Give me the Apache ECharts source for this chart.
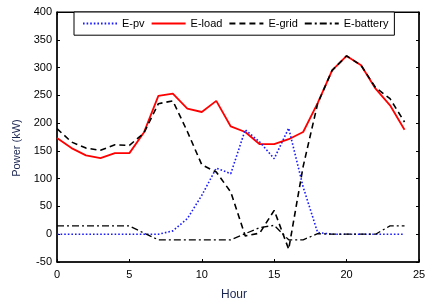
<!DOCTYPE html>
<html>
<head>
<meta charset="utf-8">
<script src="https://cdn.jsdelivr.net/npm/echarts@6/dist/echarts.min.js"></script>
<style>html,body{margin:0;padding:0;background:#fff;}#c{width:432px;height:308px;}</style>
</head>
<body>
<div id="c"></div>
<script>
const hours = [0,1,2,3,4,5,6,7,8,9,10,11,12,13,14,15,16,17,18,19,20,21,22,23,24];
const ePv      = [0,0,0,0,0,0,0,0,6,28,70,119,109,188,166,136,191,85,3,0,0,0,0,0,0];
const eLoad    = [173,155,142,137,146,146,183,249,253,226,220,240,194,184,162,162,171,184,236,295,321,304,262,232,188];
const eGrid    = [190,166,155,151,161,160,182,235,240,185,125,112,76,-3,2,43,-27,122,235,295,321,304,264,244,202];
const eBattery = [15,15,15,15,15,15,2,-10,-10,-10,-10,-10,-10,1,12,16,-10,-10,1,0,0,0,0,15,15];
const seriesNames = ['E-pv','E-load','E-grid','E-battery'];
const xTicks = {min:0, max:25, interval:5};
const yTicks = {min:-50, max:400, interval:50};

const pair = arr => hours.map((h,i)=>[h,arr[i]]);
const font = 'Liberation Sans, Arial, sans-serif';
const chart = echarts.init(document.getElementById('c'), null, {renderer:'canvas'});
const axisCommon = {
  axisLine:{show:true, onZero:false, lineStyle:{color:'#000', width:1.5}},
  axisTick:{show:true, inside:true, length:3, lineStyle:{color:'#000'}},
  splitLine:{show:false}
};
chart.setOption({
  animation:false,
  backgroundColor:'#fff',
  grid:{left:57, right:13, top:12, bottom:46, show:true, borderColor:'#000', borderWidth:1},
  legend:{
    data:seriesNames, left:74, top:12, orient:'horizontal',
    itemWidth:34, itemHeight:14, itemGap:6, padding:[6,6,6,8],
    borderColor:'#000', borderWidth:1, backgroundColor:'#fff',
    itemStyle:{color:'rgba(0,0,0,0)', borderWidth:0, opacity:0},
    textStyle:{fontFamily:font, fontSize:11, color:'#000', padding:[0,0,0,0]}
  },
  xAxis:[
    Object.assign({type:'value', position:'bottom', min:xTicks.min, max:xTicks.max, interval:xTicks.interval,
      name:'Hour', nameLocation:'middle', nameGap:27,
      nameTextStyle:{fontFamily:font, fontSize:12, color:'#1a2550', padding:[0,8,0,0]},
      axisLabel:{fontFamily:font, fontSize:11, color:'#000', margin:7}}, axisCommon),
    Object.assign({type:'value', position:'top', min:xTicks.min, max:xTicks.max, interval:xTicks.interval,
      axisLabel:{show:false}}, axisCommon, {axisLine:{show:true, onZero:false, lineStyle:{color:'#000', width:1}}})
  ],
  yAxis:[
    Object.assign({type:'value', position:'left', min:yTicks.min, max:yTicks.max, interval:yTicks.interval,
      name:'Power (kW)', nameLocation:'middle', nameGap:29, nameRotate:90,
      nameTextStyle:{fontFamily:font, fontSize:11, color:'#1a2550', padding:[0,22,0,0]},
      axisLabel:{fontFamily:font, fontSize:11, color:'#000', margin:5}}, axisCommon),
    Object.assign({type:'value', position:'right', min:yTicks.min, max:yTicks.max, interval:yTicks.interval,
      axisLabel:{show:false}}, axisCommon)
  ],
  series:[
    {name:seriesNames[0], type:'line', data:pair(ePv), showSymbol:false, symbol:'none', z:3,
     lineStyle:{color:'#1a1aff', width:1.6, type:[1.6,2]}, itemStyle:{color:'#1a1aff'}},
    {name:seriesNames[1], type:'line', data:pair(eLoad), showSymbol:false, symbol:'none', z:2,
     lineStyle:{color:'#ff0000', width:1.8}, itemStyle:{color:'#ff0000'}},
    {name:seriesNames[2], type:'line', data:pair(eGrid), showSymbol:false, symbol:'none', z:4,
     lineStyle:{color:'#000', width:1.6, type:[6,4]}, itemStyle:{color:'#000'}},
    {name:seriesNames[3], type:'line', data:pair(eBattery), showSymbol:false, symbol:'none', z:5,
     lineStyle:{color:'#000', width:1.3, type:[7,3,2,3]}, itemStyle:{color:'#000'}}
  ]
});
</script>
</body>
</html>
